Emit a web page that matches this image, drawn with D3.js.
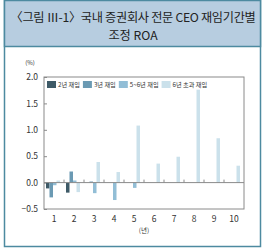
<!DOCTYPE html>
<html>
<head>
<meta charset="utf-8">
<script src="https://cdn.jsdelivr.net/npm/d3@7"></script>
<style>
  body { margin: 0; background: #fff; }
  svg text { font-family: "Noto Sans CJK KR", "Noto Sans", sans-serif; }
</style>
</head>
<body>
<div id="chart"></div>
<script>
// data
const years = ["1", "2", "3", "4", "5", "6", "7", "8", "9", "10"];
const seriesNames = ["2년 재임", "3년 재임", "5~6년 재임", "6년 초과 재임"];
const yr2 = [-0.11, -0.19, 0, 0, 0, 0, 0, 0, 0, 0];
const yr3 = [-0.28, 0.21, 0.02, 0, 0, 0, 0, 0, 0, 0];
const yr56 = [-0.05, 0.04, -0.2, -0.33, -0.1, 0, 0, 0, 0, 0];
const yr6plus = [0.04, -0.18, 0.39, 0.2, 1.08, 0.36, 0.49, 1.76, 0.84, 0.32];
const yTicks = [-0.5, 0, 0.5, 1.0, 1.5, 2.0];
const colors = ["#3e5a67", "#6b9ab3", "#92bed6", "#cbe1eb"];

const series = [yr2, yr3, yr56, yr6plus];

const W = 267, H = 252;
const svg = d3.select("#chart").append("svg")
  .attr("width", W).attr("height", H);

// outer frame + title header
svg.append("rect")
  .attr("x", 4.5).attr("y", 0.5)
  .attr("width", 256).attr("height", 246)
  .attr("fill", "#fff").attr("stroke", "#4d8aa0").attr("stroke-width", 1.5);
svg.append("rect")
  .attr("x", 4.5).attr("y", 0.5)
  .attr("width", 256).attr("height", 46)
  .attr("fill", "#b7cde0").attr("stroke", "#4d8aa0").attr("stroke-width", 1.5);

svg.append("text")
  .attr("x", 133).attr("y", 21.5)
  .attr("text-anchor", "middle")
  .attr("font-size", 12.2).attr("fill", "#222")
  .attr("letter-spacing", -0.3)
  .text("〈그림 Ⅲ-1〉국내 증권회사 전문 CEO 재임기간별");
svg.append("text")
  .attr("x", 133).attr("y", 40)
  .attr("text-anchor", "middle")
  .attr("font-size", 12.2).attr("fill", "#222")
  .text("조정 ROA");

// scales
const pl = 44, pr = 244, pt = 77, pb = 209;
const x = d3.scaleBand().domain(years).range([pl, pr]).padding(0);
const xs = d3.scaleBand().domain(d3.range(series.length))
  .range([2, 16]).padding(0);
const y = d3.scaleLinear().domain([-0.5, 2.0]).range([pb, pt]);

// plot frame
svg.append("rect")
  .attr("x", pl).attr("y", pt)
  .attr("width", pr - pl).attr("height", pb - pt)
  .attr("fill", "none").attr("stroke", "#8a8a8a").attr("stroke-width", 1);

// y axis
const yAxis = d3.axisLeft(y).tickValues(yTicks)
  .tickSize(-3).tickPadding(6)
  .tickFormat(d => d === 0 ? "0.0" : d3.format(".1f")(d).replace("-", "−"));
const gy = svg.append("g")
  .attr("transform", `translate(${pl},0)`)
  .call(yAxis);
gy.select(".domain").remove();
gy.selectAll("line").attr("stroke", "#8a8a8a");
gy.selectAll("text").attr("font-size", 8.5).attr("fill", "#333")
  .attr("font-family", "Liberation Sans, Arial, sans-serif");

svg.append("text")
  .attr("x", 30).attr("y", 65)
  .attr("text-anchor", "middle")
  .attr("font-size", 6).attr("fill", "#333")
  .text("(%)");

// bars
series.forEach((vals, si) => {
  svg.append("g").selectAll("rect")
    .data(vals.map((v, i) => ({year: years[i], v})))
    .join("rect")
    .attr("x", d => x(d.year) + xs(si))
    .attr("width", xs.bandwidth())
    .attr("y", d => y(Math.max(0, d.v)))
    .attr("height", d => Math.abs(y(d.v) - y(0)))
    .attr("fill", colors[si]);
});

// zero line with category separators
svg.append("line")
  .attr("x1", pl).attr("x2", pr)
  .attr("y1", y(0)).attr("y2", y(0))
  .attr("stroke", "#8a8a8a");
svg.append("g").selectAll("line")
  .data(years.slice(1))
  .join("line")
  .attr("x1", d => x(d)).attr("x2", d => x(d))
  .attr("y1", y(0)).attr("y2", y(0) - 3)
  .attr("stroke", "#8a8a8a");

// x labels
const gxl = svg.append("g")
  .attr("transform", `translate(0,${pb})`)
  .call(d3.axisBottom(x).tickSize(0).tickPadding(7));
gxl.select(".domain").remove();
gxl.selectAll("text").attr("font-size", 8.5).attr("fill", "#333")
  .attr("font-family", "Liberation Sans, Arial, sans-serif");

svg.append("text")
  .attr("x", 144).attr("y", 233)
  .attr("text-anchor", "middle")
  .attr("font-size", 6.5).attr("fill", "#333")
  .text("(년)");

// legend
const legend = svg.append("g").attr("transform", "translate(47,81)");
let lx = 0;
seriesNames.forEach((name, i) => {
  legend.append("rect")
    .attr("x", lx).attr("y", 0)
    .attr("width", 9).attr("height", 7)
    .attr("fill", colors[i]);
  const t = legend.append("text")
    .attr("x", lx + 11).attr("y", 6)
    .attr("font-size", 6.2).attr("fill", "#333")
    .text(name);
  lx += 11 + t.node().getComputedTextLength() + 3;
});
</script>
</body>
</html>
